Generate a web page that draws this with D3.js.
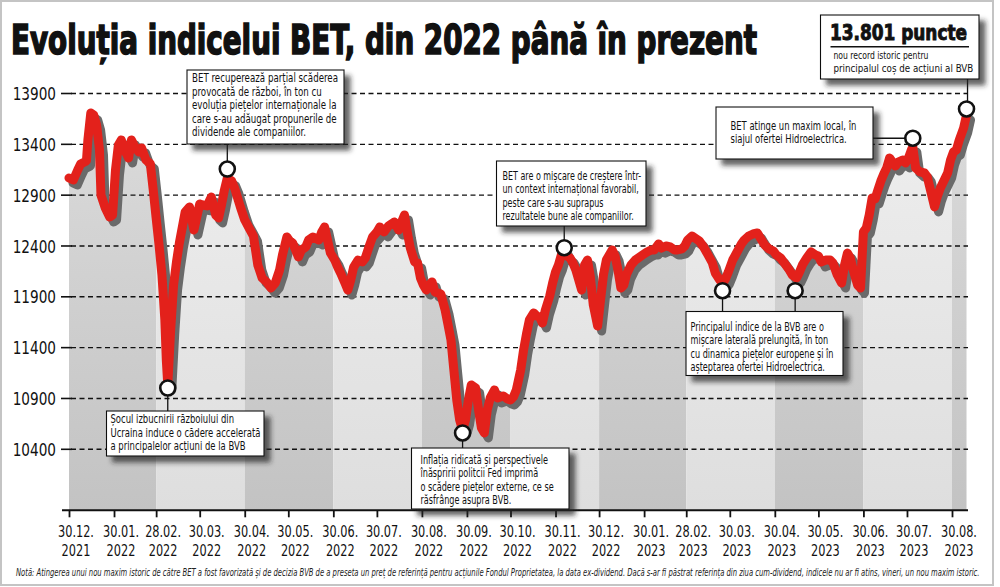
<!DOCTYPE html>
<html><head><meta charset="utf-8">
<script src="https://cdn.jsdelivr.net/npm/d3@7"></script>
<style>
body{margin:0;background:#fff;}
svg{display:block;}
</style></head><body>
<svg id="c" width="1000" height="587"></svg>
<script>
// ---- DATA ----
// day offsets from 30.12.2021 and BET index values
const days = [0,3,6,8,12,13,15,17,19,21,22,25,28,30,32,34,36,39,41,43,45,48,50,53,56,58,60,62,64,66,67,68,70,72,74,76,80,83,86,90,92,95,98,101,103,105,107,109,112,114,118,121,124,127,130,133,136,139,142,145,147,150,152,154,158,160,163,165,168,172,174,176,180,183,185,187,190,192,194,196,199,202,204,207,209,212,214,217,220,222,224,227,229,231,233,235,238,240,242,244,246,248,250,252,254,256,259,261,263,265,267,269,271,273,275,277,280,282,284,286,288,290,293,295,299,302,304,306,308,311,313,315,317,320,322,324,326,328,331,333,335,337,339,341,343,345,347,349,351,353,355,357,359,361,364,366,368,370,372,374,376,378,380,382,384,387,390,392,395,398,401,403,406,408,411,414,417,419,422,424,426,429,432,434,437,440,443,445,448,450,452,454,457,460,463,465,468,471,474,476,479,482,485,487,490,493,496,498,501,503,505,508,511,514,516,518,521,524,526,529,532,534,536,538,540,543,545,546,547,549,551,553,555,557,559,561,563,565,567,569,571,574,576,578,580,581,583,586,589,591,594,596,598,600,602,605,607,609,611,613,616,618];
const values = [13069,13049,13148,13207,13236,13443,13708,13689,13590,13344,12902,12774,12685,12705,13148,13394,13443,13325,13266,13443,13384,13325,13364,13246,13207,12951,12676,12410,12115,11672,11279,11033,11574,12016,12243,12430,12735,12784,12557,12813,12803,12794,12882,12705,12676,12803,12951,13069,13039,12971,12784,12656,12577,12498,12213,12085,12046,11987,12036,12164,12312,12489,12449,12430,12292,12361,12390,12459,12489,12459,12538,12587,12331,12262,12193,12134,12036,11967,12066,12193,12262,12243,12282,12410,12489,12538,12587,12538,12597,12617,12636,12557,12636,12705,12528,12380,12243,12233,12085,12016,11967,12016,12046,11948,11938,11928,11770,11623,11475,11180,10885,10688,10590,10688,10885,11033,11003,10787,10610,10561,10787,10905,10984,10905,10925,10895,10885,10915,10984,11180,11377,11534,11672,11741,11712,11702,11643,11770,11908,12036,12144,12213,12312,12361,12302,12282,12233,12164,12066,11967,12213,12262,12095,11820,11613,11869,12115,12262,12312,12361,12302,12164,11987,12016,12125,12213,12262,12282,12312,12341,12361,12361,12420,12380,12400,12390,12361,12361,12371,12400,12459,12498,12469,12449,12390,12312,12233,12134,12066,12036,12075,12144,12262,12341,12420,12459,12498,12518,12528,12479,12410,12371,12351,12312,12282,12223,12164,12115,12085,12144,12213,12282,12341,12312,12302,12243,12262,12262,12233,12115,12036,12213,12331,12282,12164,12016,11987,12262,12538,12577,12705,12872,12862,12951,13039,13108,13167,13266,13226,13187,13226,13246,13217,13266,13344,13374,13167,13128,13118,13079,12902,12784,12892,12971,13030,13118,13246,13325,13344,13443,13561,13689];

const tickDateStrings = ["2021-12-30","2022-01-30","2022-02-28","2022-03-30","2022-04-30","2022-05-30","2022-06-30","2022-07-30","2022-08-30","2022-09-30","2022-10-30","2022-11-30","2022-12-30","2023-01-30","2023-02-28","2023-03-30","2023-04-30","2023-05-30","2023-06-30","2023-07-30","2023-08-30"];
const tickLabelTop = ["30.12.","30.01.","28.02.","30.03.","30.04.","30.05.","30.06.","30.07.","30.08.","30.09.","30.10.","30.11.","30.12.","30.01.","28.02.","30.03.","30.04.","30.05.","30.06.","30.07.","30.08."];
const tickLabelYear = ["2021","2022","2022","2022","2022","2022","2022","2022","2022","2022","2022","2022","2022","2023","2023","2023","2023","2023","2023","2023","2023"];
const yTicks = [10400,10900,11400,11900,12400,12900,13400,13900];

const titleText = "Evoluția indicelui BET, din 2022 până în prezent";
const recordTitle = "13.801 puncte";
const recordLines = ["nou record istoric pentru","principalul coș de acțiuni al BVB"];
const noteText = "Notă: Atingerea unui nou maxim istoric de către BET a fost favorizată și de decizia BVB de a preseta un preț de referință pentru acțiunile Fondul Proprietatea, la data ex-dividend. Dacă s-ar fi păstrat referința din ziua cum-dividend, indicele nu ar fi atins, vineri, un nou maxim istoric.";

// annotation points (day offset, value) and texts
const annoDays = [68,109,271,341,450,500,581,618];
const annoValues = [11003,13157,10561,12383,11960,11960,13460,13748];
const annoTexts = [
  ["Șocul izbucnirii războiului din","Ucraina induce o cădere accelerată","a principalelor acțiuni de la BVB"],
  ["BET recuperează parțial scăderea","provocată de război, în ton cu","evoluția piețelor internaționale la","care s-au adăugat propunerile de","dividende ale companiilor."],
  ["Inflația ridicată și perspectivele","înăspririi politcii Fed imprimă","o scădere piețelor externe, ce se","răsfrânge asupra BVB."],
  ["BET are o mișcare de creștere într-","un context internațional favorabil,","peste care s-au suprapus","rezultatele bune ale companiilor."],
  ["Principalul indice de la BVB are o","mișcare laterală prelungită, în ton","cu dinamica piețelor europene și în","așteptarea ofertei Hidroelectrica."],
  ["BET atinge un maxim local, în","siajul ofertei Hidroelectrica."]
];

// ---- LAYOUT ----
const FONT = "'Liberation Sans Narrow','DejaVu Sans Condensed','Roboto',sans-serif";
const svg = d3.select('#c');
const startDate = new Date(2021,11,30);
const parse = d3.timeParse('%Y-%m-%d');
const tickDates = tickDateStrings.map(parse);
const data = days.map((d,i)=>({date:d3.timeDay.offset(startDate,d), value:values[i]}));
const x = d3.scaleTime().domain([tickDates[0], tickDates[tickDates.length-1]]).range([69,952]);
const y = d3.scaleLinear().domain([10400,13900]).range([449.3,93.5]);
const yBase = y(9800);

function squeeze(sel, ax, target){
  const w = sel.node().getBBox().width;
  if(!w) return 1;
  const k = target / w;
  sel.attr('transform',`translate(${ax},0) scale(${k},1) translate(${-ax},0)`);
  return k;
}
function squeezeK(sel, ax, k){
  sel.attr('transform',`translate(${ax},0) scale(${k},1) translate(${-ax},0)`);
}

const defs = svg.append('defs');
const f = defs.append('filter').attr('id','sh').attr('x','-20%').attr('y','-20%').attr('width','150%').attr('height','160%');
f.append('feDropShadow').attr('dx',6).attr('dy',6).attr('stdDeviation',2.5).attr('flood-color','#222').attr('flood-opacity',0.7);

function grad(id, c0, c1){
  const g = defs.append('linearGradient').attr('id',id).attr('x1',0).attr('x2',0)
    .attr('gradientUnits','userSpaceOnUse').attr('y1',90).attr('y2',yBase);
  g.append('stop').attr('offset','0%').attr('stop-color',c0);
  g.append('stop').attr('offset','100%').attr('stop-color',c1);
}
grad('gDark','#dcdcdc','#c3c3c3');
grad('gLight','#efefef','#dedede');

svg.append('rect').attr('x',0).attr('y',0).attr('width',1000).attr('height',587).attr('fill','#fff');
svg.append('rect').attr('x',1).attr('y',1).attr('width',992).attr('height',584).attr('fill','none').attr('stroke','#c4c4c4').attr('stroke-width',2);

const area = d3.area().x(d=>x(d.date)).y0(yBase).y1(d=>y(d.value));
defs.append('clipPath').attr('id','under').append('path').attr('d', area(data));

const bands = svg.append('g').attr('clip-path','url(#under)');
const bandEdges = [];
for(let i=0;i<tickDates.length-1;i+=2){ bandEdges.push([x(tickDates[i]), x(tickDates[i+2]||tickDates[tickDates.length-1])]); }
bandEdges.push([x(tickDates[tickDates.length-1]), 975]);
bands.selectAll('rect').data(bandEdges).join('rect')
  .attr('x',(d,i)=> i===0 ? 55 : d[0]).attr('width',(d,i)=> i===0 ? d[1]-55 : d[1]-d[0])
  .attr('y',0).attr('height',yBase)
  .attr('fill',(d,i)=> i%2===0 ? 'url(#gDark)' : 'url(#gLight)');

const grid = svg.append('g');
grid.selectAll('line.g').data(yTicks).join('line').attr('class','g')
  .attr('x1',71).attr('x2',968).attr('y1',d=>y(d)).attr('y2',d=>y(d))
  .attr('stroke','#111').attr('stroke-width',1.4).attr('stroke-dasharray','5,3.5');
grid.selectAll('line.t').data(yTicks).join('line').attr('class','t')
  .attr('x1',61).attr('x2',72).attr('y1',d=>y(d)).attr('y2',d=>y(d))
  .attr('stroke','#111').attr('stroke-width',1.6);
const yl = grid.selectAll('text').data(yTicks).join('text')
  .attr('x',56).attr('y',d=>y(d)+6.6).attr('text-anchor','end')
  .attr('font-family',FONT).attr('font-size',18.5).attr('fill','#111').text(d=>d);
const kY = 43.3 / yl.nodes()[0].getBBox().width;
yl.each(function(){ squeezeK(d3.select(this), 56, kY); });

const xAxis = d3.axisBottom(x).tickValues(tickDates).tickSize(7).tickFormat('');
const ax = svg.append('g').attr('transform',`translate(0,${yBase})`).call(xAxis);
ax.select('.domain').remove();
ax.selectAll('.tick line').attr('stroke','#111').attr('stroke-width',1.8);
svg.append('line').attr('x1',62).attr('x2',968).attr('y1',yBase).attr('y2',yBase).attr('stroke','#111').attr('stroke-width',2);
const xl = svg.append('g');
const xa = xl.selectAll('text.a').data(tickDates).join('text').attr('class','a')
  .attr('x',d=>x(d)+7).attr('y',537).attr('text-anchor','middle')
  .attr('font-family',FONT).attr('font-size',16.5).attr('fill','#111').text((d,i)=>tickLabelTop[i]);
const xb = xl.selectAll('text.b').data(tickDates).join('text').attr('class','b')
  .attr('x',d=>x(d)+7).attr('y',556).attr('text-anchor','middle')
  .attr('font-family',FONT).attr('font-size',16.5).attr('fill','#111').text((d,i)=>tickLabelYear[i]);
const kX = 36 / xa.nodes()[0].getBBox().width;
xa.each(function(d){ squeezeK(d3.select(this), x(d)+7, kX); });
xb.each(function(d){ squeezeK(d3.select(this), x(d)+7, kX); });

const line = d3.line().x(d=>x(d.date)).y(d=>y(d.value));
svg.append('path').attr('d',line(data)).attr('transform','translate(4,5)')
  .attr('fill','none').attr('stroke','#6a6a6a').attr('stroke-width',9).attr('stroke-linejoin','round').attr('stroke-linecap','round');
svg.append('path').attr('d',line(data))
  .attr('fill','none').attr('stroke','#e3211b').attr('stroke-width',9).attr('stroke-linejoin','round').attr('stroke-linecap','round');

const pts = annoDays.map((d,i)=>({x:x(d3.timeDay.offset(startDate,d)), y:y(annoValues[i])}));
const boxes = [
  {x:106.5,y:411,w:157.5,h:45,tx:110.5,ty:423.5,tw:150,pts:[0],dir:'up'},
  {x:187,y:70,w:157,h:74,tx:192,ty:82.5,tw:146,pts:[1],dir:'down'},
  {x:411.5,y:448,w:157.5,h:61,tx:420.5,ty:464,tw:134,pts:[2],dir:'up'},
  {x:496.5,y:161,w:149.5,h:65,tx:502.5,ty:180,tw:139,pts:[3],dir:'down'},
  {x:686,y:311.5,w:157,h:64,tx:690.5,ty:331,tw:143,pts:[4,5],dir:'up'},
  {x:716,y:107,w:157,h:52,tx:730.5,ty:130,tw:126,pts:[6],dir:'right'}
];
const ag = svg.append('g');
boxes.forEach(b=>{
  b.pts.forEach(pi=>{
    const p = pts[pi];
    if(b.dir==='up') ag.append('line').attr('x1',p.x).attr('x2',p.x).attr('y1',p.y).attr('y2',b.y).attr('stroke','#111').attr('stroke-width',1.3);
    if(b.dir==='down') ag.append('line').attr('x1',p.x).attr('x2',p.x).attr('y1',p.y).attr('y2',b.y+b.h).attr('stroke','#111').attr('stroke-width',1.3);
    if(b.dir==='right') ag.append('line').attr('x1',b.x+b.w).attr('x2',p.x).attr('y1',p.y).attr('y2',p.y).attr('stroke','#111').attr('stroke-width',1.3);
  });
});
ag.append('line').attr('x1',pts[7].x+1).attr('x2',pts[7].x+1).attr('y1',79).attr('y2',pts[7].y).attr('stroke','#111').attr('stroke-width',1.3);

boxes.forEach((b,i)=>{
  ag.append('rect').attr('x',b.x).attr('y',b.y).attr('width',b.w).attr('height',b.h)
    .attr('fill','#fff').attr('stroke','#111').attr('stroke-width',1.1).attr('filter','url(#sh)');
  const t = ag.append('text').attr('font-family',FONT).attr('font-size',11.5).attr('fill','#111');
  annoTexts[i].forEach((ln,j)=>{
    t.append('tspan').attr('x',b.tx).attr('y',b.ty+j*13.4).text(ln);
  });
  squeeze(t, b.tx, b.tw);
});

ag.append('rect').attr('x',820.5).attr('y',15).attr('width',158.5).attr('height',64)
  .attr('fill','#fff').attr('stroke','#111').attr('stroke-width',1.1).attr('filter','url(#sh)');
ag.append('text').attr('x',830).attr('y',39.5).attr('font-family',FONT).attr('font-weight','bold')
  .attr('font-size',21).attr('fill','#111').attr('stroke','#111').attr('stroke-width',0.9)
  .attr('textLength',137).attr('lengthAdjust','spacingAndGlyphs').text(recordTitle);
ag.append('line').attr('x1',830.5).attr('x2',969).attr('y1',46.7).attr('y2',46.7).attr('stroke','#111').attr('stroke-width',1.4);
const rt = ag.append('g');
recordLines.forEach((ln,j)=> {
  const t = rt.append('text').attr('font-family',FONT).attr('font-size',10.8).attr('fill','#111')
    .attr('x',833.5).attr('y',59.5+j*13).text(ln);
  squeeze(t, 833.5, j===0 ? 95 : 140);
});

ag.selectAll('circle').data(pts).join('circle')
  .attr('cx',d=>d.x).attr('cy',d=>d.y).attr('r',7.5)
  .attr('fill','#fff').attr('stroke','#111').attr('stroke-width',2.6);

svg.append('text').attr('x',11).attr('y',53.5).attr('font-family',FONT).attr('font-weight','bold')
  .attr('font-size',40).attr('fill','#111').attr('stroke','#111').attr('stroke-width',1.6)
  .attr('textLength',746).attr('lengthAdjust','spacingAndGlyphs').text(titleText);

const note = svg.append('text').attr('x',16).attr('y',576).attr('font-family',FONT).attr('font-style','italic')
  .attr('font-size',10.2).attr('fill','#222').text(noteText);
squeeze(note, 16, 964);
</script>
</body></html>
